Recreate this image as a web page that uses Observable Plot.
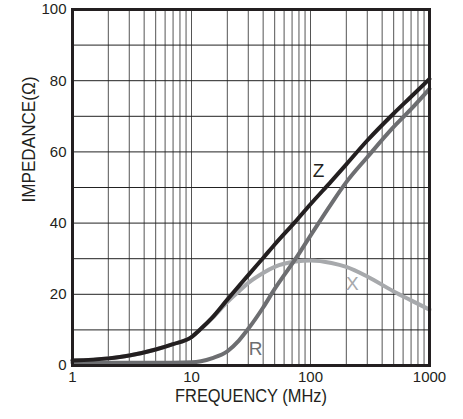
<!DOCTYPE html>
<html>
<head>
<meta charset="utf-8">
<script src="https://cdn.jsdelivr.net/npm/d3@7"></script>
<script src="https://cdn.jsdelivr.net/npm/@observablehq/plot@0.6"></script>
<style>
  html, body { margin: 0; padding: 0; background: #fff; }
  #chart { width: 463px; height: 419px; }
</style>
</head>
<body>
<div id="chart"></div>
<script>
// Frequency (MHz) sample points
const freqs = [1, 2, 3, 5, 7, 10, 12, 15, 20, 25, 30, 40, 50, 75, 100, 150, 200, 300, 500, 700, 1000];
// Impedance |Z| (ohm)
const zValues = [1.4, 2.0, 2.8, 4.5, 6.0, 8.0, 10.3, 13.5, 18.5, 22.3, 25.4, 30.2, 34.0, 40.5, 45.3, 51.8, 56.5, 63.2, 70.8, 75.5, 80.5];
// Resistance R (ohm)
const rValues = [0.8, 0.8, 0.8, 0.8, 0.8, 0.9, 1.2, 2.1, 4.0, 7.0, 10.3, 16.3, 21.5, 30.0, 36.5, 45.5, 51.5, 58.5, 67.0, 72.0, 77.7];
// Reactance X (ohm)
const xValues = [1.4, 2.0, 2.8, 4.5, 6.0, 8.0, 10.3, 13.4, 17.8, 20.8, 23.2, 26.0, 27.7, 29.2, 29.5, 28.8, 27.7, 25.0, 20.8, 18.3, 15.7];

const xTicks = [1, 10, 100, 1000];
const yTicks = [0, 20, 40, 60, 80, 100];
const yGrid = [10, 20, 30, 40, 50, 60, 70, 80, 90];
const xGrid = [2,3,4,5,6,7,8,9,10,20,30,40,50,60,70,80,90,100,200,300,400,500,600,700,800,900];

const curveLabels = ["Z", "X", "R"];
const curveLabelF = [117, 225, 34.5];
const curveLabelV = [54.8, 23, 4.8];
const curveColors = ["#231f20", "#a7a9ac", "#6d6e71"];

const xTitle = "FREQUENCY (MHz)";
const yTitle = "IMPEDANCE(Ω)";

const font = "'Liberation Sans', Arial, sans-serif";

const rows = (vals) => freqs.map((f, i) => ({f, v: vals[i]}));
const labelRows = curveLabels.map((t, i) => ({t, f: curveLabelF[i], v: curveLabelV[i], c: curveColors[i]}));

const chart = Plot.plot({
  width: 463,
  height: 419,
  marginLeft: 72,
  marginRight: 34,
  marginTop: 9,
  marginBottom: 54,
  style: {fontFamily: font, background: "#fff", color: "#231f20"},
  x: {type: "log", domain: [1, 1000]},
  y: {domain: [0, 100]},
  marks: [
    Plot.ruleX(xGrid, {stroke: "#555", strokeWidth: 1}),
    Plot.ruleY(yGrid, {stroke: "#222", strokeWidth: 1}),
    Plot.line(rows(xValues), {x: "f", y: "v", stroke: curveColors[1], strokeWidth: 4, curve: "monotone-x"}),
    Plot.line(rows(rValues), {x: "f", y: "v", stroke: curveColors[2], strokeWidth: 4, curve: "monotone-x"}),
    Plot.line(rows(zValues), {x: "f", y: "v", stroke: curveColors[0], strokeWidth: 4, curve: "monotone-x"}),
    Plot.frame({stroke: "#231f20", strokeWidth: 3}),
    Plot.axisX({ticks: xTicks, tickFormat: d => String(d), tickSize: 0, tickPadding: 6, fontSize: 15, label: null, fill: "#231f20"}),
    Plot.axisY({ticks: yTicks, tickFormat: d => String(d), tickSize: 0, tickPadding: 6, fontSize: 15, label: null, fill: "#231f20"}),
    Plot.text(labelRows, {x: "f", y: "v", text: "t", fill: "c", fontSize: 19}),
    Plot.text([xTitle], {frameAnchor: "bottom", dy: 36, fontSize: 19, fill: "#231f20"}),
    Plot.text([yTitle], {frameAnchor: "left", rotate: -90, dx: -44, dy: 15, fontSize: 19, fill: "#231f20"})
  ]
});
// emulate the condensed typeface of the original
d3.select(chart).selectAll("text").each(function() {
  const t = this.textContent;
  if (t === xTitle) { this.setAttribute("textLength", 152); this.setAttribute("lengthAdjust", "spacingAndGlyphs"); }
  if (t === yTitle) { this.setAttribute("textLength", 126); this.setAttribute("lengthAdjust", "spacingAndGlyphs"); }
});
document.getElementById("chart").appendChild(chart);
</script>
</body>
</html>
